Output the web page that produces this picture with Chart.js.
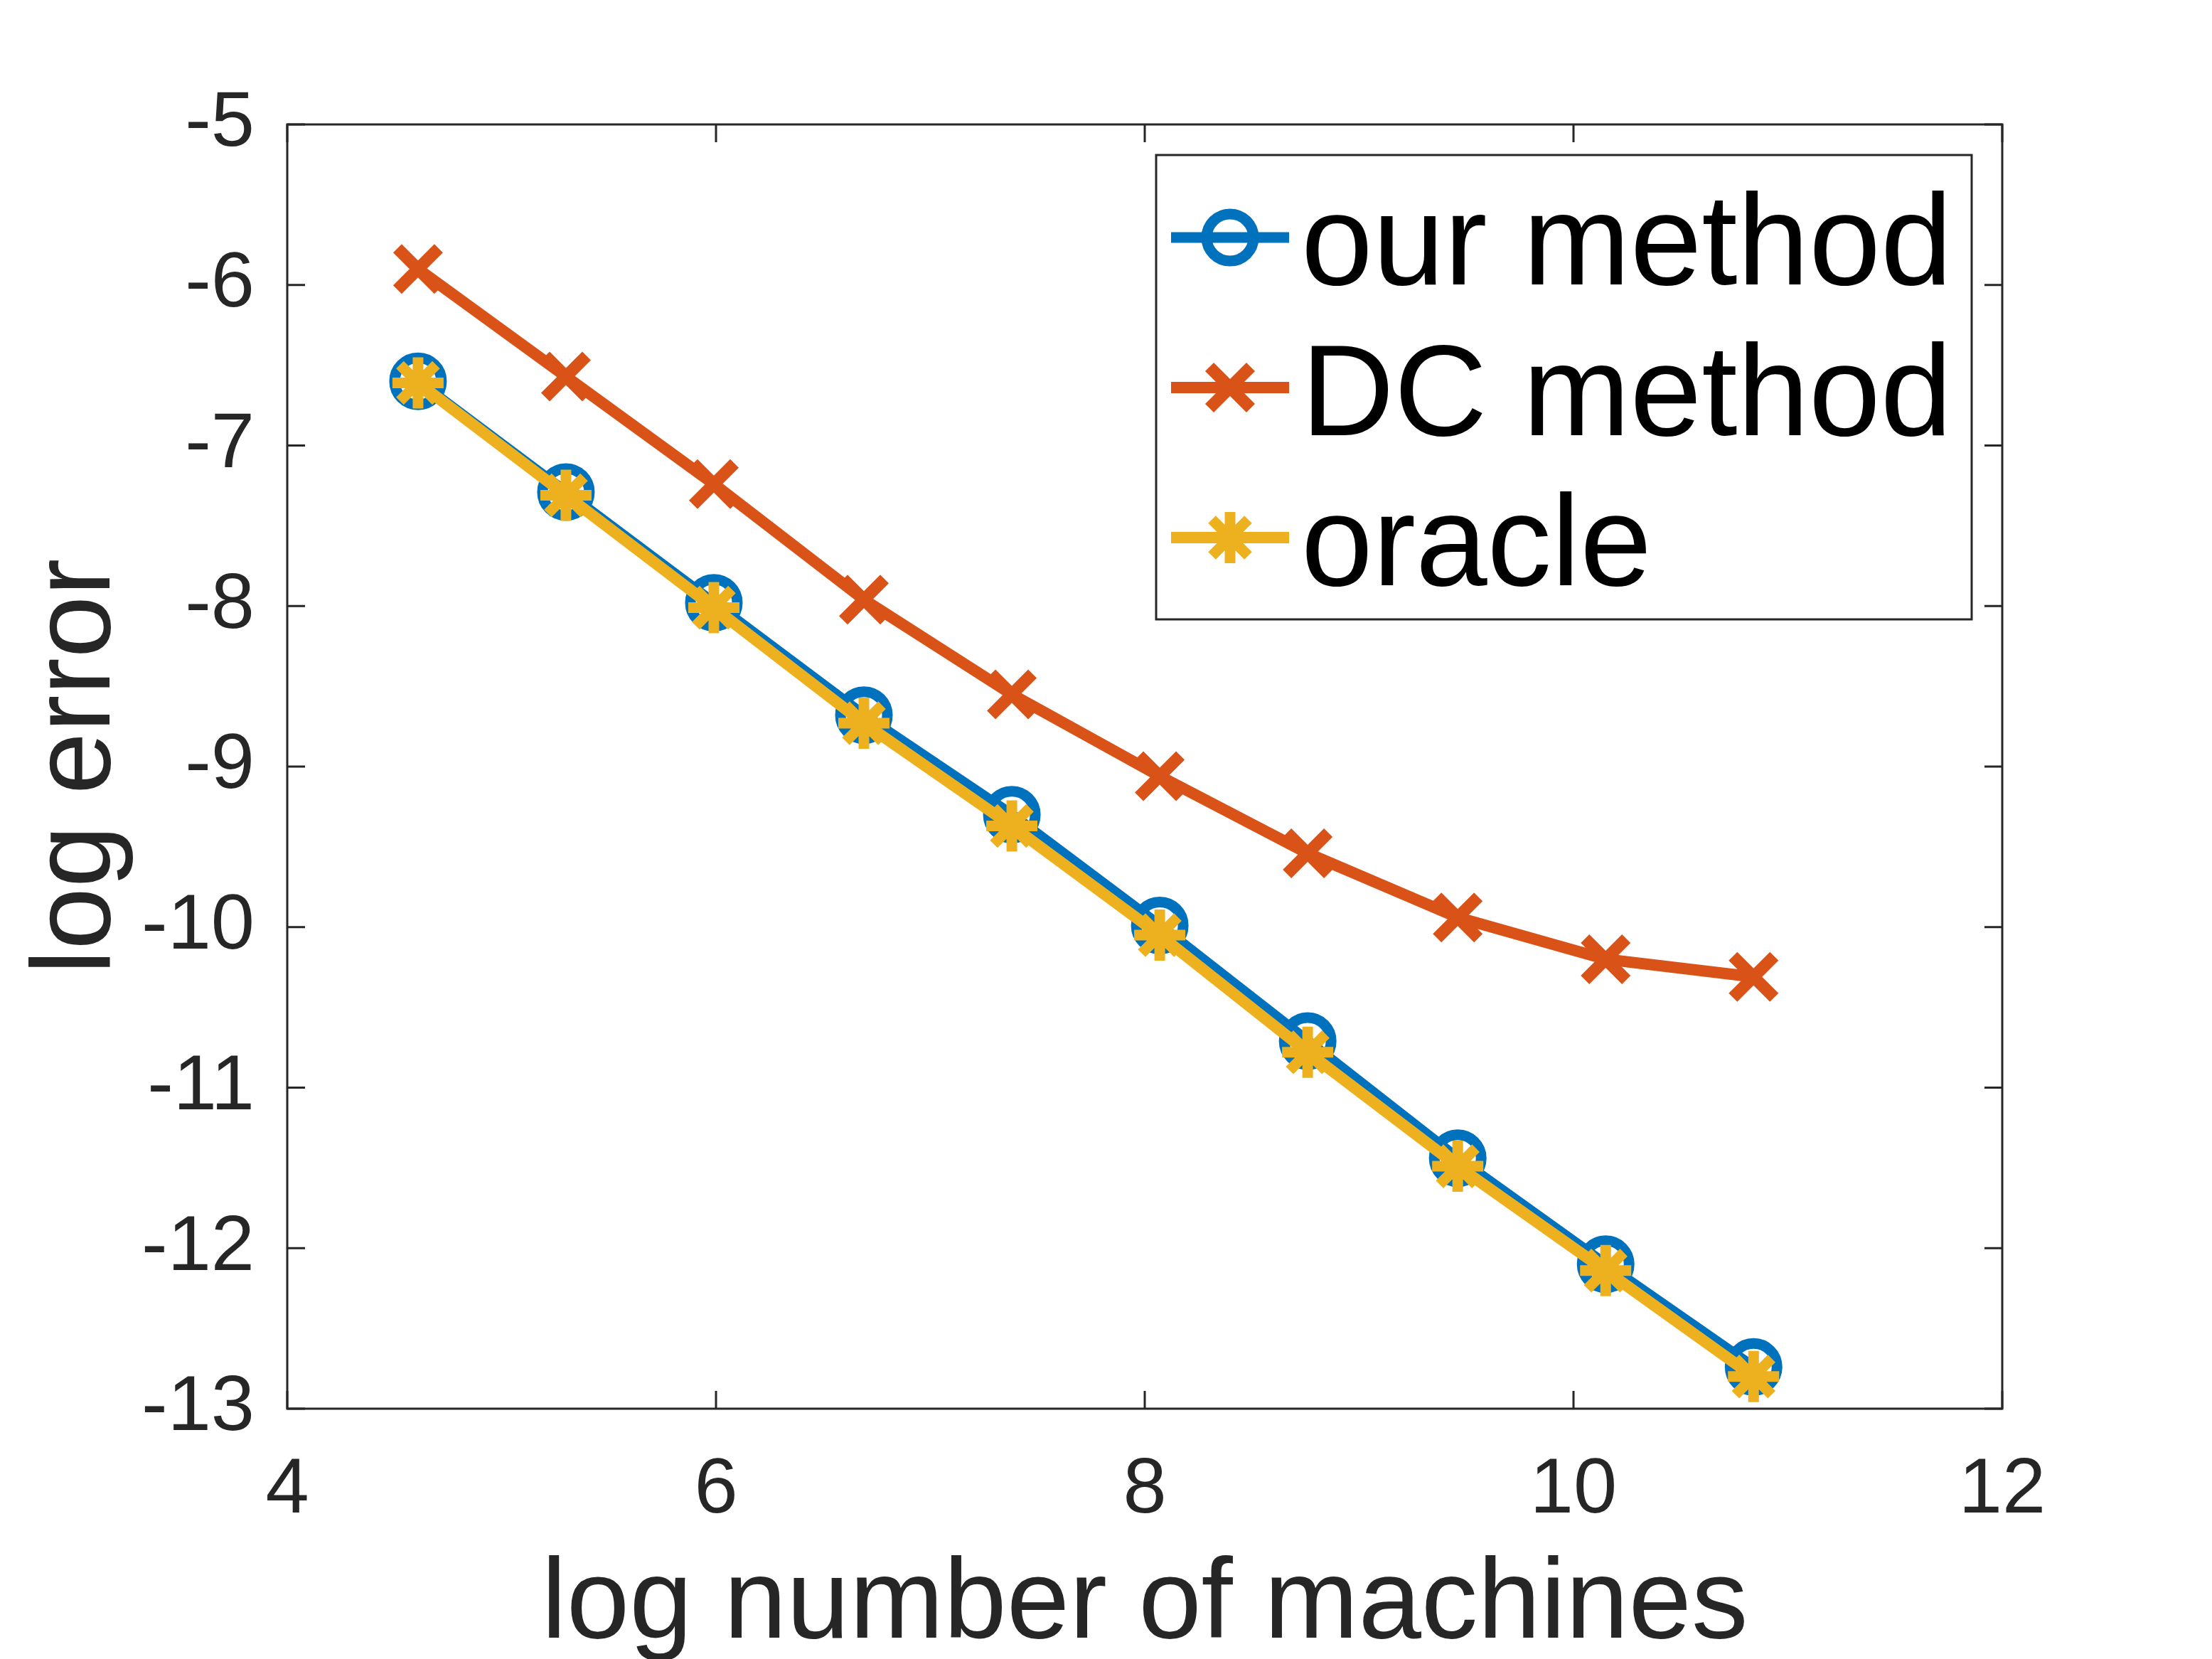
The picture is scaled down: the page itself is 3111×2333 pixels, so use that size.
<!DOCTYPE html>
<html>
<head>
<meta charset="utf-8">
<script src="https://cdn.jsdelivr.net/npm/chart.js@4.4.1/dist/chart.umd.min.js"></script>
<style>
  html, body { margin: 0; padding: 0; background: #fff; }
  #plot { display: block; }
</style>
</head>
<body>
<canvas id="plot" width="3111" height="2333"></canvas>
<script>
// log number of machines (x) and log error for each method
const logMachines = [4.61, 5.30, 5.99, 6.69, 7.38, 8.07, 8.76, 9.46, 10.15, 10.84];
const ourMethod = [-6.60, -7.29, -7.98, -8.68, -9.30, -9.99, -10.71, -11.44, -12.10, -12.74];
const dcMethod = [-5.90, -6.57, -7.24, -7.96, -8.55, -9.06, -9.54, -9.94, -10.20, -10.31];
const oracle = [-6.61, -7.31, -8.01, -8.73, -9.37, -10.05, -10.78, -11.49, -12.14, -12.80];
const seriesNames = ['our method', 'DC method', 'oracle'];
const xTicks = [4, 6, 8, 10, 12];
const yTicks = [-13, -12, -11, -10, -9, -8, -7, -6, -5];

const axisColor = '#262626';
const fontFamily = '"Liberation Sans", Arial, Helvetica, sans-serif';

function pts(ys) {
    return logMachines.map((x, i) => ({ x: x, y: ys[i] }));
}

// MATLAB-like box with inward ticks
const boxPlugin = {
    id: 'box',
    beforeDatasetsDraw(chart) {
        const { ctx, chartArea: a, scales } = chart;
        ctx.save();
        ctx.strokeStyle = axisColor;
        ctx.lineWidth = 3;
        ctx.strokeRect(a.left, a.top, a.right - a.left, a.bottom - a.top);
        const tl = 25;
        ctx.beginPath();
        scales.x.ticks.forEach(t => {
            const px = scales.x.getPixelForValue(t.value);
            ctx.moveTo(px, a.bottom); ctx.lineTo(px, a.bottom - tl);
            ctx.moveTo(px, a.top); ctx.lineTo(px, a.top + tl);
        });
        scales.y.ticks.forEach(t => {
            const py = scales.y.getPixelForValue(t.value);
            ctx.moveTo(a.left, py); ctx.lineTo(a.left + tl, py);
            ctx.moveTo(a.right, py); ctx.lineTo(a.right - tl, py);
        });
        ctx.stroke();
        ctx.restore();
    }
};

function drawMarker(ctx, style, x, y, r) {
    ctx.beginPath();
    if (style === 'circle') {
        ctx.arc(x, y, r, 0, Math.PI * 2);
    } else {
        const d = r * Math.SQRT1_2;
        ctx.moveTo(x - d, y - d); ctx.lineTo(x + d, y + d);
        ctx.moveTo(x - d, y + d); ctx.lineTo(x + d, y - d);
        if (style === 'star') {
            ctx.moveTo(x - r, y); ctx.lineTo(x + r, y);
            ctx.moveTo(x, y - r); ctx.lineTo(x, y + r);
        }
    }
    ctx.stroke();
}

const legendPlugin = {
    id: 'matlabLegend',
    afterDraw(chart) {
        const ctx = chart.ctx;
        ctx.save();
        ctx.fillStyle = '#fff';
        ctx.fillRect(1626, 218, 1147, 653);
        ctx.strokeStyle = axisColor;
        ctx.lineWidth = 3;
        ctx.strokeRect(1626, 218, 1147, 653);
        chart.data.datasets.forEach((ds, i) => {
            const y = 334 + i * 211;
            ctx.strokeStyle = ds.borderColor;
            ctx.lineWidth = ds.borderWidth;
            ctx.beginPath();
            ctx.moveTo(1647, y); ctx.lineTo(1813, y);
            ctx.stroke();
            ctx.lineWidth = ds.pointBorderWidth;
            drawMarker(ctx, ds.pointStyle, 1730, y, ds.pointRadius);
            ctx.fillStyle = '#000';
            ctx.font = '181px ' + fontFamily;
            ctx.textBaseline = 'alphabetic';
            ctx.textAlign = 'left';
            ctx.fillText(ds.label, 1830, 400 + i * 211.5);
        });
        ctx.restore();
    }
};

new Chart(document.getElementById('plot'), {
    type: 'line',
    data: {
        datasets: [
            {
                label: seriesNames[0],
                data: pts(ourMethod),
                borderColor: '#0072BD',
                borderWidth: 15,
                pointStyle: 'circle',
                pointRadius: 33,
                pointBorderWidth: 15,
                pointBorderColor: '#0072BD',
                pointBackgroundColor: 'rgba(0,0,0,0)',
                order: 2
            },
            {
                label: seriesNames[1],
                data: pts(dcMethod),
                borderColor: '#D95319',
                borderWidth: 16,
                pointStyle: 'crossRot',
                pointRadius: 41,
                pointBorderWidth: 17,
                pointBorderColor: '#D95319',
                order: 1
            },
            {
                label: seriesNames[2],
                data: pts(oracle),
                borderColor: '#EDB120',
                borderWidth: 16,
                pointStyle: 'star',
                pointRadius: 36,
                pointBorderWidth: 15,
                pointBorderColor: '#EDB120',
                order: 0
            }
        ]
    },
    options: {
        responsive: false,
        animation: false,
        devicePixelRatio: 1,
        layout: { padding: { left: 0, top: 175, right: 295, bottom: 0 } },
        elements: { line: { tension: 0 } },
        plugins: {
            legend: { display: false },
            tooltip: { enabled: false }
        },
        scales: {
            x: {
                type: 'linear',
                min: 4,
                max: 12,
                afterBuildTicks: s => { s.ticks = xTicks.map(v => ({ value: v })); },
                afterFit: s => { s.height = 352; },
                grid: { display: false },
                border: { display: false },
                ticks: {
                    color: axisColor,
                    font: { family: fontFamily, size: 110 },
                    padding: 42,
                    maxRotation: 0
                },
                title: {
                    display: true,
                    text: 'log number of machines',
                    color: axisColor,
                    font: { family: fontFamily, size: 159, lineHeight: 0.8 },
                    padding: { top: 0, bottom: 10 }
                }
            },
            y: {
                type: 'linear',
                min: -13,
                max: -5,
                afterBuildTicks: s => { s.ticks = yTicks.map(v => ({ value: v })); },
                afterFit: s => { s.width = 404; },
                grid: { display: false },
                border: { display: false },
                ticks: {
                    color: axisColor,
                    font: { family: fontFamily, size: 110 },
                    padding: 38
                },
                title: {
                    display: true,
                    text: 'log error',
                    color: axisColor,
                    font: { family: fontFamily, size: 157, lineHeight: 0.8 },
                    padding: { top: 48, bottom: 0 }
                }
            }
        }
    },
    plugins: [boxPlugin, legendPlugin]
});
</script>
</body>
</html>
